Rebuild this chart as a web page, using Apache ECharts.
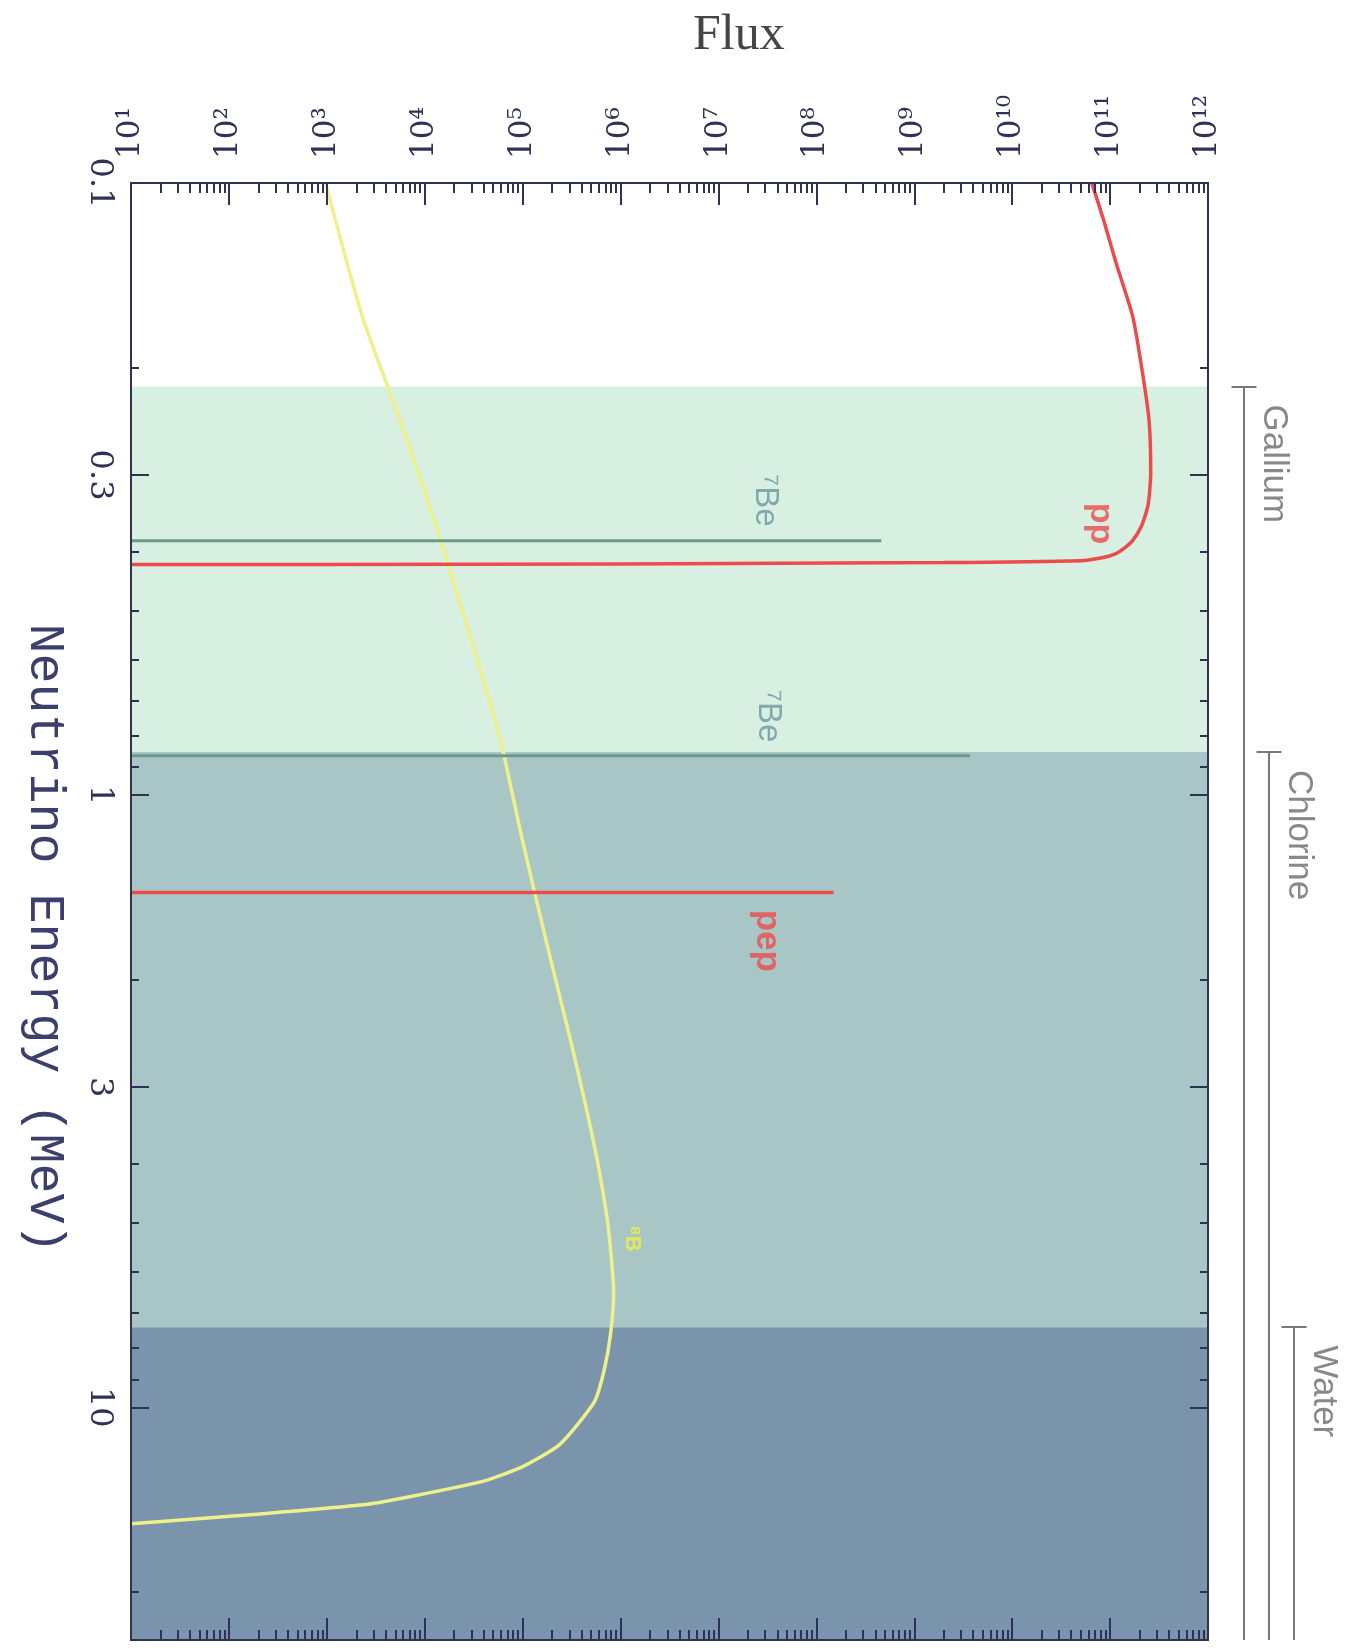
<!DOCTYPE html>
<html><head><meta charset="utf-8">
<script src="https://cdn.jsdelivr.net/npm/echarts@6/dist/echarts.min.js"></script>
<style>html,body{margin:0;padding:0;background:#ffffff}#c{width:1353px;height:1648px}</style>
</head><body><div id="c"></div>
<script>
// ---------------- data ----------------
const ppEnergy = [0.1, 0.115, 0.135, 0.165, 0.2, 0.244, 0.298, 0.335, 0.363, 0.384, 0.395, 0.403, 0.409, 0.414, 0.417, 0.419, 0.4198, 0.42];
const ppFlux   = [6.5e10, 8.6e10, 1.15e11, 1.7e11, 2.1e11, 2.5e11, 2.6e11, 2.45e11, 2.1e11, 1.7e11, 1.4e11, 1.15e11, 8.5e10, 5.0e10, 2.0e9, 1.0e6, 1.0e3, 10];

const be7LineEnergy = [0.384, 0.862];
const be7LineFlux   = [4.6e8, 3.7e9];

const pepEnergy = [1.442];
const pepFlux   = [1.5e8];

const b8Energy = [0.1, 0.165, 0.244, 0.363, 0.539, 0.801, 1.19, 1.77, 2.63, 3.9, 5.0, 6.5, 7.6, 8.7, 9.8, 11.5, 12.5, 13.2, 14.0, 14.4, 15.0, 15.5];
const b8Flux   = [9.7e2, 2.3e3, 5.6e3, 1.3e4, 2.8e4, 5.8e4, 1.0e5, 1.8e5, 3.3e5, 5.7e5, 7.4e5, 8.5e5, 7.9e5, 6.8e5, 5.4e5, 2.4e5, 1.0e5, 4.0e4, 7.0e3, 2.6e3, 1.5e2, 10];

const detectorNames     = ['Gallium', 'Chlorine', 'Water'];
const detectorThreshold = [0.215, 0.85, 7.4];

const fluxTickExponents = [1, 2, 3, 4, 5, 6, 7, 8, 9, 10, 11, 12];
const energyTickLabels  = [0.1, 0.3, 1, 3, 10];
const energyMinorTicks  = [0.2, 0.4, 0.5, 0.6, 0.7, 0.8, 0.9, 2, 4, 5, 6, 7, 8, 9, 20];

const annotationText   = ['pp', '\u2077Be', '\u2077Be', 'pep', '\u2078B'];
const annotationFlux   = [8.0e10, 3.0e7, 3.2e7, 3.1e7, 1.3e6];
const annotationEnergy = [0.36, 0.33, 0.743, 1.73, 5.3];

// axis ranges
const fluxMin = 10, fluxMax = 1e12;
const energyMin = 0.1, energyMax = 24;

// ---------------- styles ----------------
const RED = '#ec4b4e', BE = '#6b9a8c', YEL = '#eef08c';
const AXIS = '#2e3356';
const bandColors = ['#d8f0e1', '#a8c6c5', '#7a94ab'];
const annotationStyle = [
  {color: RED, fontSize: 34, fontWeight: 'bold'},
  {color: '#6d96a0', fontSize: 33, fontWeight: 'normal'},
  {color: '#6d96a0', fontSize: 33, fontWeight: 'normal'},
  {color: RED, fontSize: 35, fontWeight: 'bold'},
  {color: '#f4f03a', fontSize: 22, fontWeight: 'bold'}
];

const SUP = '\u2070\u00b9\u00b2\u00b3\u2074\u2075\u2076\u2077\u2078\u2079';
function sup(n) { return String(n).split('').map(d => SUP[+d]).join(''); }

const lg = Math.log10;
const fluxMinor = [];
for (let e = 1; e < 12; e++) for (let k = 2; k <= 9; k++) fluxMinor.push(lg(k) + e);
const eMajorPos = energyTickLabels.map(lg);
const eMinorPos = energyMinorTicks.map(lg);

const G = {left: 131, top: 183, width: 1077, height: 1457};

function decoX(pos, major, labels) {
  return {
    type: 'value', gridIndex: 0, position: pos, min: 1, max: 12, z: 10,
    axisLine: {show: true, onZero: false, lineStyle: {color: AXIS, width: 2}},
    splitLine: {show: false},
    axisTick: {show: true, inside: true, length: major ? 22 : 10, lineStyle: {color: AXIS, width: 2},
      customValues: major ? fluxTickExponents : fluxMinor},
    axisLabel: labels ? {
      show: true, customValues: fluxTickExponents, rotate: -90, margin: 24,
      fontFamily: 'DejaVu Serif', fontSize: 31, color: AXIS,
      formatter: v => '10' + sup(Math.round(v))
    } : {show: false}
  };
}
function decoY(pos, major, labels) {
  return {
    type: 'value', gridIndex: 0, position: pos, inverse: true, min: lg(energyMin), max: lg(energyMax), z: 10,
    axisLine: {show: true, onZero: false, lineStyle: {color: AXIS, width: 2}},
    splitLine: {show: false},
    axisTick: {show: true, inside: true, length: major ? 18 : 8, lineStyle: {color: AXIS, width: 2},
      customValues: major ? eMajorPos : eMinorPos},
    axisLabel: labels ? {
      show: true, customValues: eMajorPos, rotate: -90, margin: 16,
      fontFamily: 'DejaVu Serif', fontSize: 32, color: AXIS,
      formatter: v => String(Math.round(Math.pow(10, v) * 10) / 10)
    } : {show: false},
    name: labels ? 'Neutrino Energy (MeV)' : '',
    nameLocation: 'middle', nameRotate: -90, nameGap: 62,
    nameTextStyle: {fontFamily: 'Liberation Mono', fontSize: 50, color: '#3b3f6c', padding: [0, 0, 0, 54]}
  };
}

const series = [];
// background bands (detector sensitivity)
series.push({
  type: 'line', xAxisIndex: 0, yAxisIndex: 0, data: [], z: 1, silent: true,
  markArea: {
    silent: true,
    data: detectorThreshold.map((t, i) => [
      {yAxis: t, itemStyle: {color: bandColors[i], opacity: 1}},
      {yAxis: i < detectorThreshold.length - 1 ? detectorThreshold[i + 1] : energyMax}
    ])
  }
});
// 8B
series.push({type: 'line', xAxisIndex: 0, yAxisIndex: 0, z: 3, symbol: 'none', silent: true,
  smooth: 0.2,
  lineStyle: {color: YEL, width: 3.5},
  data: b8Energy.map((e, i) => [b8Flux[i], e])});
// pp
series.push({type: 'line', xAxisIndex: 0, yAxisIndex: 0, z: 4, symbol: 'none', silent: true,
  smooth: 0.2,
  lineStyle: {color: RED, width: 3.5},
  data: ppEnergy.map((e, i) => [ppFlux[i], e])});
// 7Be lines
be7LineEnergy.forEach((e, i) => series.push({type: 'line', xAxisIndex: 0, yAxisIndex: 0, z: 4, symbol: 'none', silent: true,
  lineStyle: {color: BE, width: 3}, data: [[fluxMin, e], [be7LineFlux[i], e]]}));
// pep line
pepEnergy.forEach((e, i) => series.push({type: 'line', xAxisIndex: 0, yAxisIndex: 0, z: 4, symbol: 'none', silent: true,
  lineStyle: {color: RED, width: 3.5}, data: [[fluxMin, e], [pepFlux[i], e]]}));
// annotations
series.push({type: 'scatter', xAxisIndex: 0, yAxisIndex: 0, z: 6, symbolSize: 0, silent: true,
  data: annotationText.map((t, i) => ({
    value: [annotationFlux[i], annotationEnergy[i]],
    label: {show: true, formatter: t, position: 'inside', rotate: -90, align: 'center', verticalAlign: 'middle',
      fontFamily: 'Liberation Sans', ...annotationStyle[i]}
  }))});
// detector ranges (side panel)
series.push({type: 'scatter', xAxisIndex: 5, yAxisIndex: 5, symbolSize: 0, silent: true, clip: false,
  data: detectorNames.map((n, i) => ({
    value: [i + 2.18, detectorThreshold[i]],
    label: {show: true, formatter: n, position: 'inside', rotate: -90, align: 'left', verticalAlign: 'middle',
      offset: [18, 0], fontFamily: 'Liberation Sans', fontSize: 35, color: '#6a6a6a'}
  })),
  markLine: {
    silent: true, animation: false,
    lineStyle: {color: '#787878', width: 2, type: 'solid'},
    label: {show: false},
    symbol: ['none', 'arrow'], symbolSize: [0, 11],
    data: detectorThreshold.map((t, i) => [{coord: [i + 1, t]}, {coord: [i + 1, energyMax]}])
      .concat(detectorThreshold.map((t, i) => [
        {coord: [i + 0.5, t], symbol: 'none'}, {coord: [i + 1.5, t], symbol: 'none'}]))
  }
});

const option = {
  backgroundColor: '#ffffff',
  animation: false,
  title: {text: 'Flux', left: 688, top: 6,
    textStyle: {fontFamily: 'Liberation Serif', fontSize: 50, fontWeight: 'normal', color: '#454545'}},
  grid: [G, {left: 1219, top: 183, width: 125, height: 1457}],
  xAxis: [
    {type: 'log', gridIndex: 0, position: 'top', min: fluxMin, max: fluxMax, show: false},
    decoX('top', true, true),
    decoX('top', false, false),
    decoX('bottom', true, false),
    decoX('bottom', false, false),
    {type: 'value', gridIndex: 1, min: 0, max: 5, show: false}
  ],
  yAxis: [
    {type: 'log', gridIndex: 0, inverse: true, min: energyMin, max: energyMax, show: false},
    decoY('left', true, true),
    decoY('left', false, false),
    decoY('right', true, false),
    decoY('right', false, false),
    {type: 'log', gridIndex: 1, inverse: true, min: energyMin, max: energyMax, show: false}
  ],
  series
};
const chart = echarts.init(document.getElementById('c'), null, {renderer: 'canvas'});
chart.setOption(option);
</script></body></html>
